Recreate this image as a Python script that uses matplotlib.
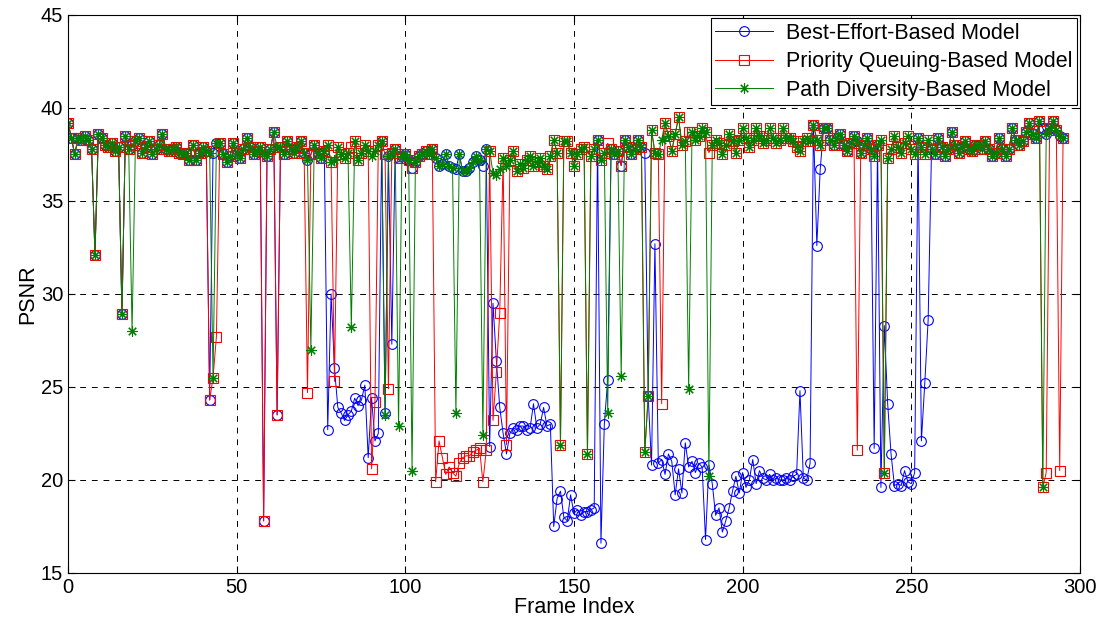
import numpy as np
import matplotlib
matplotlib.use("Agg")
import matplotlib.pyplot as plt

plt.rcParams["font.family"] = ["Liberation Sans", "DejaVu Sans"]

# PSNR of the frames that arrive intact (shared upper band), frames 0..295
top_band = [
    39.2, 38.4, 37.5, 38.4, 38.3, 38.5, 38.3, 37.8, 38.1, 38.6,
    38.4, 38.0, 37.9, 38.1, 37.7, 37.9, 38.0, 38.5, 37.8, 38.0,
    38.2, 38.4, 37.6, 37.9, 38.2, 37.5, 37.8, 38.0, 38.6, 37.8,
    37.7, 37.8, 37.9, 37.6, 37.5, 37.6, 37.2, 38.0, 37.2, 37.6,
    37.9, 37.7, 37.6, 37.6, 38.1, 38.1, 37.5, 37.1, 37.4, 38.1,
    37.6, 37.3, 37.8, 38.4, 37.9, 37.5, 37.7, 37.9, 37.6, 37.4,
    37.8, 38.7, 37.9, 37.9, 37.5, 38.2, 37.8, 37.6, 37.9, 38.2,
    37.6, 37.2, 37.5, 38.0, 37.6, 37.3, 37.7, 38.0, 37.1, 37.2,
    37.9, 37.5, 37.3, 37.6, 37.9, 38.2, 37.2, 37.6, 38.0, 37.7,
    37.4, 37.7, 38.0, 38.2, 37.5, 37.4, 37.6, 37.8, 37.3, 37.4,
    37.5, 37.2, 36.8, 37.1, 37.4, 37.5, 37.7, 37.5, 37.8, 37.3,
    36.9, 37.0, 37.5, 36.9, 36.8, 36.7, 37.5, 36.6, 36.6, 36.8,
    37.1, 37.4, 37.2, 36.9, 37.8, 37.7, 36.5, 36.4, 36.7, 37.3,
    36.9, 37.2, 37.7, 36.6, 37.0, 36.8, 37.2, 37.4, 36.9, 37.1,
    37.3, 36.9, 36.7, 37.4, 38.3, 37.6, 37.3, 38.2, 38.2, 37.6,
    36.9, 37.5, 37.8, 37.9, 37.6, 37.4, 37.8, 38.3, 37.2, 37.6,
    38.1, 37.8, 37.5, 37.7, 36.9, 38.3, 37.9, 37.5, 37.8, 38.3,
    37.9, 37.6, 37.8, 38.8, 37.6, 37.5, 38.3, 39.2, 38.5, 37.7,
    38.6, 39.5, 38.0, 38.2, 38.7, 38.7, 38.3, 38.5, 38.9, 38.7,
    37.6, 38.0, 38.3, 38.1, 37.5, 38.0, 38.6, 38.2, 37.6, 38.3,
    38.9, 38.4, 37.9, 38.3, 38.9, 38.5, 38.1, 38.3, 38.9, 38.4,
    38.1, 38.3, 38.9, 38.4, 38.4, 38.2, 37.9, 37.7, 38.2, 38.4,
    38.2, 39.1, 38.3, 38.0, 38.9, 38.9, 38.3, 38.0, 38.4, 38.6,
    38.0, 37.7, 38.1, 38.5, 38.2, 37.6, 38.0, 38.4, 37.8, 37.4,
    38.0, 38.3, 37.6, 37.3, 37.8, 38.5, 37.9, 37.6, 38.1, 38.5,
    37.8, 37.5, 38.4, 37.9, 37.5, 38.3, 37.8, 37.5, 38.4, 37.9,
    37.4, 37.8, 38.7, 38.0, 37.6, 37.9, 38.2, 37.8, 37.7, 38.0,
    38.0, 37.8, 38.2, 37.8, 37.4, 37.6, 38.4, 37.8, 37.4, 37.8,
    38.9, 38.3, 38.0, 38.2, 38.7, 39.2, 38.6, 38.4, 39.3, 38.9,
    38.6, 38.9, 39.3, 38.8, 38.5, 38.4,
]

# frames where each model loses quality {frame: PSNR}
best_effort_drops = {
    8: 32.1, 16: 28.9, 42: 24.3, 58: 17.8, 62: 23.5,
    77: 22.7, 78: 30.0, 79: 26.0, 80: 23.9, 81: 23.6, 82: 23.2, 83: 23.5,
    84: 23.7, 85: 24.4, 86: 24.0, 87: 24.3, 88: 25.1, 89: 21.2, 90: 24.4,
    91: 22.1, 92: 22.5, 94: 23.6, 96: 27.3,
    125: 21.8, 126: 29.5, 127: 26.4, 128: 23.9, 129: 22.5, 130: 21.4,
    131: 22.5, 132: 22.8, 133: 22.7, 134: 22.9, 135: 22.9, 136: 22.7,
    137: 22.8, 138: 24.1, 139: 22.8, 140: 23.0, 141: 23.9, 142: 22.9,
    143: 23.0, 144: 17.5, 145: 19.0, 146: 19.4, 147: 18.0, 148: 17.8,
    149: 19.2, 150: 18.2, 151: 18.4, 152: 18.1, 153: 18.3, 154: 18.3,
    155: 18.4, 156: 18.5, 158: 16.6, 159: 23.0, 160: 25.4,
    172: 24.5, 173: 20.8, 174: 32.7, 175: 20.9, 176: 21.1, 177: 20.3,
    178: 21.4, 179: 21.0, 180: 19.2, 181: 20.6, 182: 19.3, 183: 22.0,
    184: 20.7, 185: 21.0, 186: 20.4, 187: 20.9, 188: 20.7, 189: 16.8,
    190: 20.8, 191: 19.8, 192: 18.1, 193: 18.5, 194: 17.2, 195: 17.8,
    196: 18.5, 197: 19.4, 198: 20.2, 199: 19.3, 200: 20.4, 201: 19.6,
    202: 20.0, 203: 21.1, 204: 19.8, 205: 20.5, 206: 20.1, 207: 20.0,
    208: 20.3, 209: 20.0, 210: 20.1, 211: 20.0, 212: 20.0, 213: 20.1,
    214: 20.0, 215: 20.2, 216: 20.3, 217: 24.8, 218: 20.1, 219: 20.0,
    220: 20.9, 222: 32.6, 223: 36.7,
    239: 21.7, 241: 19.6, 242: 28.3, 243: 24.1, 244: 21.4, 245: 19.7,
    246: 19.8, 247: 19.7, 248: 20.5, 249: 19.9, 250: 19.8, 251: 20.4,
    253: 22.1, 254: 25.2, 255: 28.6,
}
priority_drops = {
    8: 32.1, 16: 28.9, 42: 24.3, 43: 25.5, 44: 27.7, 58: 17.8, 62: 23.5,
    71: 24.7, 79: 25.3, 90: 20.6, 91: 24.2, 95: 24.9,
    109: 19.9, 110: 22.1, 111: 21.2, 112: 20.3, 113: 20.7, 114: 20.4,
    115: 20.2, 116: 20.9, 117: 21.2, 118: 21.3, 119: 21.3, 120: 21.5,
    121: 21.6, 122: 21.7, 123: 19.9, 124: 21.6,
    126: 23.2, 127: 25.8, 128: 29.0, 130: 21.9,
    146: 21.9, 154: 21.4, 171: 21.5, 172: 24.5, 176: 24.1,
    234: 21.6, 242: 20.4, 289: 19.6, 290: 20.4, 294: 20.5,
}
path_diversity_drops = {
    8: 32.1, 16: 28.9, 19: 28.0, 43: 25.5, 72: 27.0, 84: 28.2, 94: 23.5,
    98: 22.9, 102: 20.5, 115: 23.6, 123: 22.4, 146: 21.9, 154: 21.4,
    160: 23.6, 164: 25.6, 171: 21.5, 172: 24.5, 184: 24.9, 190: 20.2,
    242: 20.4, 289: 19.6,
}

labels = ["Best-Effort-Based Model", "Priority Queuing-Based Model",
          "Path Diversity-Based Model"]


def build(drops):
    psnr = list(top_band)
    for f, v in drops.items():
        psnr[f] = v
    return psnr


frames = np.arange(len(top_band))
best_effort = build(best_effort_drops)
priority = build(priority_drops)
path_div = build(path_diversity_drops)

fig = plt.figure(figsize=(11.09, 6.30), dpi=100)
ax = fig.add_axes([0.0613, 0.0905, 0.9125, 0.8857])

ax.plot(frames, best_effort, "-o", color="blue", lw=0.7, ms=7,
        mfc="none", mew=0.8, label=labels[0])
ax.plot(frames, priority, "-s", color="red", lw=0.7, ms=6.5,
        mfc="none", mew=0.8, label=labels[1])
# matlab-style asterisk marker
ax.plot(frames, path_div, "-", marker=(8, 2, 0), color="green", lw=0.7,
        ms=7.5, mew=0.8, label=labels[2])

ax.set_xlim(0, 300)
ax.set_ylim(15, 45)
ax.set_xticks(range(0, 301, 50))
ax.set_yticks(range(15, 46, 5))
ax.grid(True, color="black", linestyle=(0, (6, 6)), linewidth=0.7)
ax.tick_params(direction="in", top=True, right=True, labelsize=14.5, length=5)
for s in ax.spines.values():
    s.set_linewidth(0.8)

ax.set_xlabel("Frame Index", fontsize=15.5, labelpad=0)
ax.set_ylabel("PSNR", fontsize=15.5, labelpad=2)

leg = ax.legend(loc="upper right", fontsize=15.5, fancybox=False,
                framealpha=1, edgecolor="black", borderaxespad=0.15,
                handlelength=2.7, handletextpad=0.6, labelspacing=0.36,
                borderpad=0.2)
leg.get_frame().set_linewidth(0.8)

fig.savefig("out.png", dpi=100)
